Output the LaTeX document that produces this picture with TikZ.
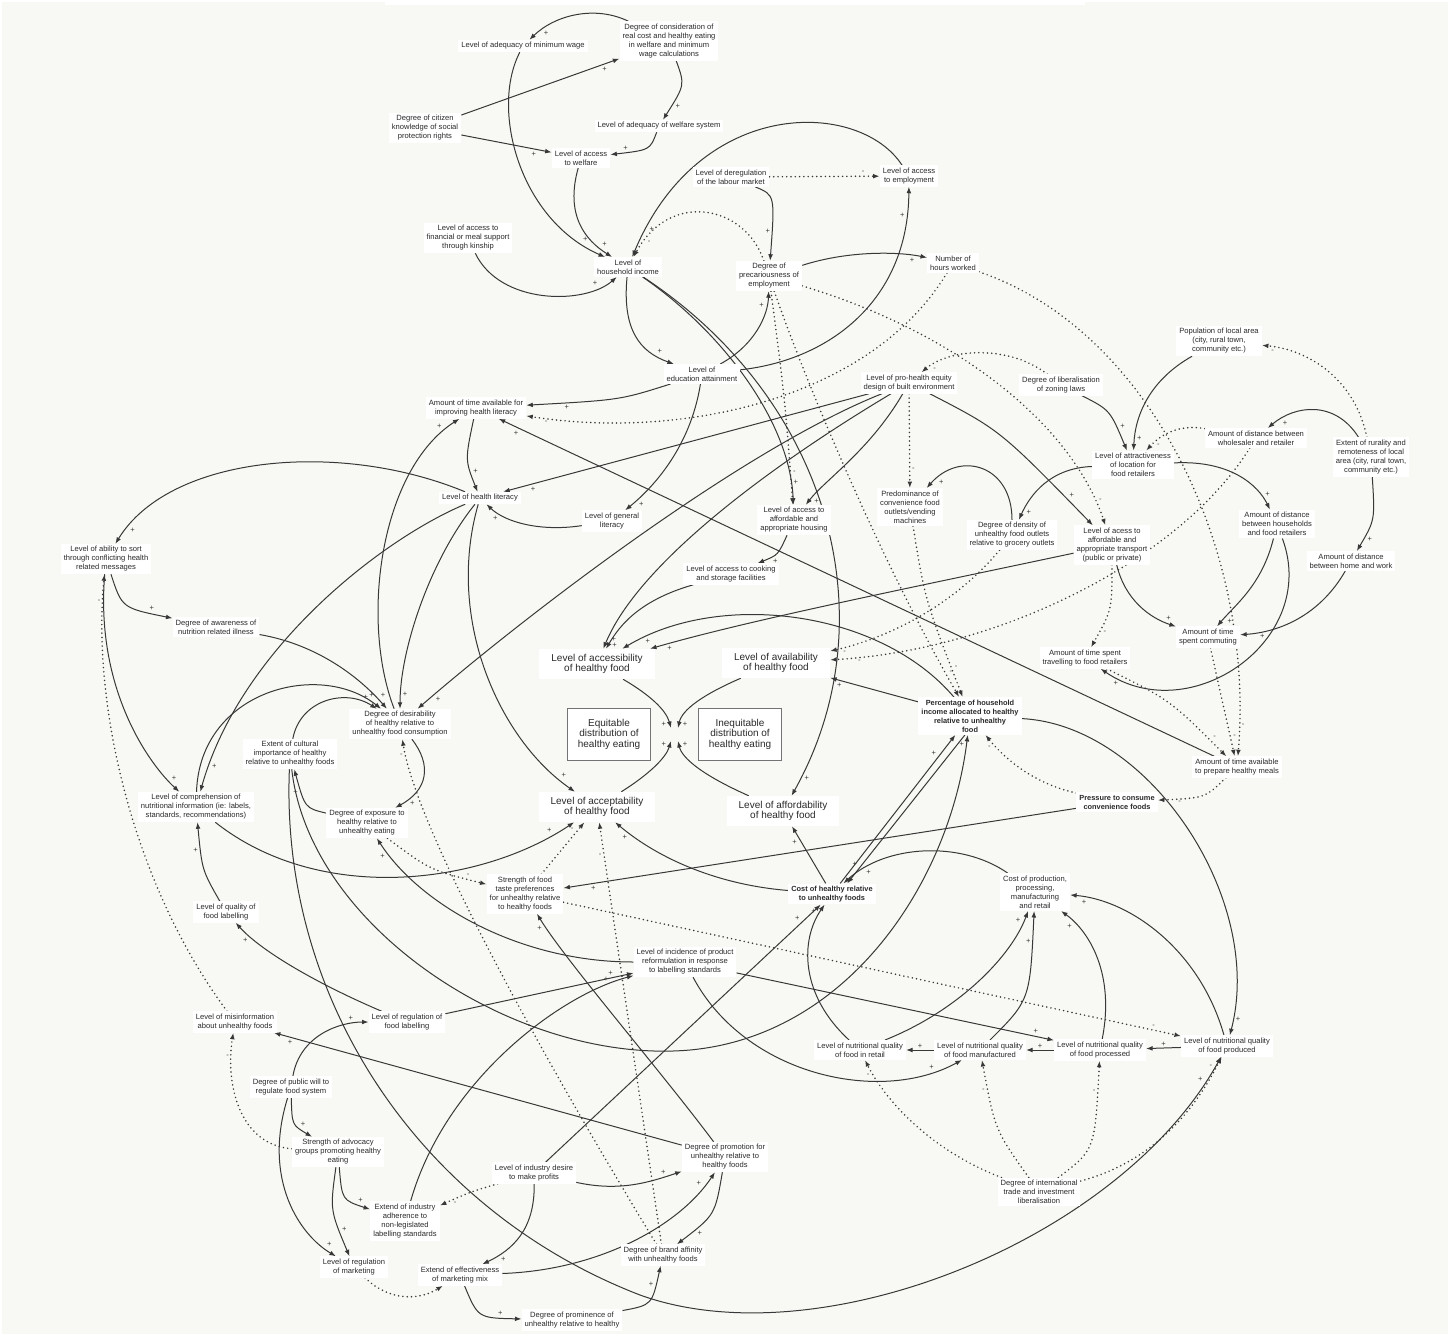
\documentclass[tikz,border=0pt]{standalone}
\usepackage{fontspec}
\setmainfont{Liberation Sans}
\usetikzlibrary{arrows.meta}
\definecolor{bgc}{HTML}{F8F8F4}
\definecolor{ln}{HTML}{383838}
\definecolor{txt}{HTML}{2A2A2A}
\pgfdeclarelayer{back}
\pgfdeclarelayer{edges}
\pgfsetlayers{back,edges,main}
\tikzset{
  box/.style={fill=white, inner xsep=3pt, inner ysep=2.5pt, align=center, text=txt, font=\fontsize{7.6}{9}\selectfont},
  bbox/.style={box, font=\fontsize{7.4}{9}\selectfont\bfseries},
  big/.style={fill=white, inner xsep=12pt, inner ysep=5pt, align=center, text=txt, font=\fontsize{10}{10.8}\selectfont},
  outc/.style={draw=ln!70, line width=0.8pt, fill=white, align=center, text=txt, font=\fontsize{10}{10.5}\selectfont, minimum width=83pt, minimum height=52pt, inner sep=2pt},
  sarr/.style={draw=ln, line width=1pt, -{Latex[length=6.5pt,width=4.8pt]}},
  darr/.style={draw=ln, line width=1.7pt, dash pattern=on 0pt off 4.3pt, line cap=round, -{Latex[length=6.5pt,width=4.8pt]}},
  pol/.style={font=\fontsize{7.5}{7.5}\selectfont, text=ln, inner sep=1.5pt, auto},
}
\begin{document}
\begin{tikzpicture}[x=1pt,y=-1pt]
\path[use as bounding box] (0,0) rectangle (1453,1336);
\begin{pgfonlayer}{back}
\fill[white] (0,0) rectangle (1453,1336);
\fill[bgc] (2,2) rectangle (1448,1334);
\fill[white] (385,0) rectangle (1085,5);
\end{pgfonlayer}

\node[box] (minwage) at (523,46) {Level of adequacy of minimum wage};
\node[box] (consid) at (669,41) {Degree of consideration of\\real cost and healthy eating\\in welfare and minimum\\wage calculations};
\node[box] (citizen) at (425,128) {Degree of citizen\\knowledge of social\\protection rights};
\node[box] (welfaresys) at (659,126) {Level of adequacy of welfare system};
\node[box] (welfare) at (581,158) {Level of access\\to welfare};
\node[box] (kinship) at (468,238) {Level of access to\\financial or meal support\\through kinship};
\node[box] (income) at (628,267) {Level of\\household income};
\node[box] (dereg) at (731,177) {Level of deregulation\\of the labour market};
\node[box] (employ) at (909,176) {Level of access\\to employment};
\node[box] (precar) at (769,276) {Degree of\\precariousness of\\employment};
\node[box] (hours) at (953,263) {Number of\\hours worked};
\node[box] (educ) at (702,374) {Level of\\education attainment};
\node[box] (timehl) at (476,408) {Amount of time available for\\improving health literacy};
\node[box] (prohealth) at (909,383) {Level of pro-health equity\\design of built environment};
\node[box] (zoning) at (1061,385) {Degree of liberalisation\\of zoning laws};
\node[box] (population) at (1219,341) {Population of local area\\(city, rural town,\\community etc.)};
\node[box] (wholesale) at (1256,438) {Amount of distance between\\wholesaler and retailer};
\node[box] (rurality) at (1371,457) {Extent of rurality and\\remoteness of local\\area (city, rural town,\\community etc.)};
\node[box] (attract) at (1133,465) {Level of attractiveness\\of location for\\food retailers};
\node[box] (healthlit) at (480,498) {Level of health literacy};
\node[box] (genlit) at (612,521) {Level of general\\literacy};
\node[box] (housing) at (794,520) {Level of access to\\affordable and\\appropriate housing};
\node[box] (conv) at (910,507) {Predominance of\\convenience food\\outlets/vending\\machines};
\node[box] (density) at (1012,535) {Degree of density of\\unhealthy food outlets\\relative to grocery outlets};
\node[box] (transport) at (1112,545) {Level of acess to\\affordable and\\appropriate transport\\(public or private)};
\node[box] (distHH) at (1277,524) {Amount of distance\\between households\\and food retailers};
\node[box] (distHW) at (1351,561) {Amount of distance\\between home and work};
\node[box] (cooking) at (731,574) {Level of access to cooking\\and storage facilities};
\node[box] (ability) at (106,559) {Level of ability to sort\\through conflicting health\\related messages};
\node[box] (awareness) at (216,627) {Degree of awareness of\\nutrition related illness};
\node[big] (accessHF) at (597,664) {Level of accessibility\\of healthy food};
\node[big] (availHF) at (776,663) {Level of availability\\of healthy food};
\node[box] (timetravel) at (1085,658) {Amount of time spent\\travelling to food retailers};
\node[box] (commute) at (1208,637) {Amount of time\\spent commuting};
\node[bbox] (pct) at (970,716) {Percentage of household\\income allocated to healthy\\relative to unhealthy\\food};
\node[outc] (equit) at (609,734) {Equitable\\distribution of\\healthy eating};
\node[outc] (inequit) at (740,734) {Inequitable\\distribution of\\healthy eating};
\node[box] (desir) at (400,724) {Degree of desirability\\of healthy relative to\\unhealthy food consumption};
\node[box] (cultural) at (290,754) {Extent of cultural\\importance of healthy\\relative to unhealthy foods};
\node[box] (exposure) at (367,823) {Degree of exposure to\\healthy relative to\\unhealthy eating};
\node[box] (compre) at (196,807) {Level of comprehension of\\nutritional information (ie: labels,\\standards, recommendations)};
\node[big] (acceptHF) at (597,807) {Level of acceptability\\of healthy food};
\node[big] (affordHF) at (783,811) {Level of affordability\\of healthy food};
\node[bbox] (pressure) at (1117,802) {Pressure to consume\\convenience foods};
\node[box] (timeprep) at (1237,767) {Amount of time available\\to prepare healthy meals};
\node[box] (taste) at (525,894) {Strength of food\\taste preferences\\for unhealthy relative\\to healthy foods};
\node[bbox] (costhealthy) at (832,894) {Cost of healthy relative\\to unhealthy foods};
\node[box] (costprod) at (1035,892) {Cost of production,\\processing,\\manufacturing\\and retail};
\node[box] (qlabel) at (226,912) {Level of quality of\\food labelling};
\node[box] (reform) at (685,962) {Level of incidence of product\\reformulation in response\\to labelling standards};
\node[box] (misinfo) at (235,1022) {Level of misinformation\\about unhealthy foods};
\node[box] (reglabel) at (407,1022) {Level of regulation of\\food labelling};
\node[box] (nqretail) at (860,1050) {Level of nutritional quality\\of food in retail};
\node[box] (nqmanuf) at (980,1050) {Level of nutritional quality\\of food manufactured};
\node[box] (nqproc) at (1100,1050) {Level of nutritional quality\\of food processed};
\node[box] (nqprod) at (1227,1046) {Level of nutritional quality\\of food produced};
\node[box] (publicwill) at (291,1087) {Degree of public will to\\regulate food system};
\node[box] (advocacy) at (338,1152) {Strength of advocacy\\groups promoting healthy\\eating};
\node[box] (profits) at (534,1173) {Level of industry desire\\to make profits};
\node[box] (promotion) at (725,1157) {Degree of promotion for\\unhealthy relative to\\healthy foods};
\node[box] (adherence) at (405,1221) {Extend of industry\\adherence to\\non-legislated\\labelling standards};
\node[box] (tradelib) at (1039,1192) {Degree of international\\trade and investment\\liberalisation};
\node[box] (brand) at (663,1255) {Degree of brand affinity\\with unhealthy foods};
\node[box] (regmkt) at (354,1267) {Level of regulation\\of marketing};
\node[box] (effmkt) at (460,1275) {Extend of effectiveness\\of marketing mix};
\node[box] (prominence) at (572,1320) {Degree of prominence of\\unhealthy relative to healthy};

\coordinate (hubTL) at (671,728);
\coordinate (hubTR) at (678,728);
\coordinate (hubBL) at (671,741);
\coordinate (hubBR) at (678,741);

\begin{pgfonlayer}{edges}
% top cluster
\draw[sarr] (consid) .. controls (595,5) and (555,15) .. (minwage) node[pol,pos=0.85]{+};
\draw[sarr] (minwage) .. controls (490,110) and (520,220) .. (income) node[pol,pos=0.9]{+};
\draw[sarr] (citizen) -- (consid) node[pol,pos=0.88,swap]{+};
\draw[sarr] (citizen) -- (welfare) node[pol,pos=0.85,swap]{+};
\draw[sarr] (consid) .. controls (685,85) .. (welfaresys) node[pol,pos=0.8]{+};
\draw[sarr] (welfaresys) .. controls (650,150) .. (welfare) node[pol,pos=0.8,swap]{+};
\draw[sarr] (welfare) .. controls (565,215) and (585,240) .. (income) node[pol,pos=0.85]{+};
\draw[sarr] (kinship) .. controls (500,305) and (585,305) .. (income) node[pol,pos=0.85]{+};
\draw[sarr] (employ) .. controls (860,100) and (700,95) .. (income) node[pol,pos=0.93]{+};
\draw[darr] (precar) .. controls (745,205) and (670,190) .. (income) node[pol,pos=0.9]{-};
\draw[darr] (dereg) -- (employ) node[pol,pos=0.85]{-};
\draw[sarr] (dereg) .. controls (775,195) .. (precar) node[pol,pos=0.85,swap]{+};
\draw[sarr] (educ) .. controls (755,345) and (768,315) .. (precar) node[pol,pos=0.75]{+};
\draw[sarr] (educ) .. controls (830,360) and (908,300) .. (employ) node[pol,pos=0.9]{+};
\draw[sarr] (precar) .. controls (850,250) and (900,252) .. (hours) node[pol,pos=0.88,swap]{+};
\draw[sarr] (income) .. controls (622,330) and (640,352) .. (educ) node[pol,pos=0.8]{+};
\draw[sarr] (income) .. controls (720,330) and (790,420) .. (housing) node[pol,pos=0.93]{+};
\draw[sarr] (income) .. controls (830,400) and (890,620) .. (affordHF) node[pol,pos=0.96]{+};
\draw[darr] (precar) .. controls (785,400) .. (housing) node[pol,pos=0.9]{-};
\draw[sarr] (prohealth) .. controls (870,450) and (825,480) .. (housing) node[pol,pos=0.9]{+};
\draw[darr] (precar) .. controls (805,380) and (880,560) .. (pct) node[pol,pos=0.95]{-};
\draw[darr] (precar) .. controls (950,330) and (1070,420) .. (transport) node[pol,pos=0.93]{-};
\draw[darr] (hours) .. controls (870,400) and (680,440) .. (timehl) node[pol,pos=0.95]{-};
\draw[darr] (hours) .. controls (1150,330) and (1255,550) .. (timeprep) node[pol,pos=0.95]{-};
\draw[sarr] (educ) .. controls (620,400) .. (timehl) node[pol,pos=0.85]{+};
\draw[sarr] (timehl) .. controls (465,460) .. (healthlit) node[pol,pos=0.8]{+};
\draw[sarr] (desir) .. controls (360,620) and (380,470) .. (timehl) node[pol,pos=0.93]{+};
\draw[sarr] (healthlit) .. controls (340,440) and (170,455) .. (ability) node[pol,pos=0.93]{+};
\draw[sarr] (educ) .. controls (690,450) and (650,490) .. (genlit) node[pol,pos=0.85]{+};
\draw[sarr] (prohealth) -- (healthlit) node[pol,pos=0.93]{+};
\draw[sarr] (genlit) .. controls (540,532) and (505,522) .. (healthlit) node[pol,pos=0.8]{+};
\draw[sarr] (healthlit) .. controls (430,560) and (400,650) .. (desir) node[pol,pos=0.9]{+};
\draw[sarr] (healthlit) .. controls (380,540) and (240,650) .. (compre) node[pol,pos=0.93]{+};
\draw[sarr] (healthlit) .. controls (445,620) and (500,740) .. (acceptHF) node[pol,pos=0.93]{+};
\draw[sarr] (prohealth) .. controls (740,450) and (520,620) .. (desir) node[pol,pos=0.95]{+};
\draw[sarr] (prohealth) .. controls (780,460) and (640,560) .. (accessHF) node[pol,pos=0.95]{+};
\draw[sarr] (housing) .. controls (778,555) .. (cooking) node[pol,pos=0.7]{+};
\draw[sarr] (cooking) .. controls (640,600) and (620,625) .. (accessHF) node[pol,pos=0.9]{+};
\draw[sarr] (transport) .. controls (900,590) and (750,620) .. (accessHF) node[pol,pos=0.95]{+};
\draw[sarr] (pct) .. controls (880,610) and (720,590) .. (accessHF) node[pol,pos=0.93]{+};
% centre
\draw[ln, line width=0.7pt, double=bgc, double distance=3.3pt] (equit.east) -- (inequit.west);
\draw[sarr] (accessHF) .. controls (650,695) and (666,710) .. (hubTL) node[pol,pos=0.85,swap]{+};
\draw[sarr] (availHF) .. controls (702,695) and (682,710) .. (hubTR) node[pol,pos=0.85]{+};
\draw[sarr] (acceptHF) .. controls (648,775) and (666,758) .. (hubBL) node[pol,pos=0.85]{+};
\draw[sarr] (affordHF) .. controls (702,775) and (682,758) .. (hubBR) node[pol,pos=0.85,swap]{+};
% right cluster
\draw[sarr] (timeprep) -- (timehl) node[pol,pos=0.97]{+};
\draw[sarr] (pct) -- (availHF) node[pol,pos=0.85]{+};
\draw[darr] (wholesale) .. controls (1180,560) and (1000,650) .. (availHF) node[pol,pos=0.95]{-};
\draw[darr] (density) .. controls (950,610) and (880,640) .. (availHF) node[pol,pos=0.93]{-};
\draw[sarr] (density) .. controls (1012,465) and (960,450) .. (conv) node[pol,pos=0.9]{+};
\draw[darr] (prohealth) -- (conv) node[pol,pos=0.8]{-};
\draw[darr] (conv) .. controls (925,600) .. (pct) node[pol,pos=0.9]{-};
\draw[sarr] (prohealth) .. controls (1000,430) .. (transport) node[pol,pos=0.9]{+};
\draw[darr] (zoning) .. controls (1010,345) and (950,348) .. (prohealth) node[pol,pos=0.9]{-};
\draw[sarr] (zoning) .. controls (1110,410) .. (attract) node[pol,pos=0.8]{+};
\draw[sarr] (population) .. controls (1150,380) and (1135,415) .. (attract) node[pol,pos=0.85]{+};
\draw[darr] (rurality) .. controls (1355,380) and (1310,350) .. (population) node[pol,pos=0.9]{-};
\draw[sarr] (rurality) .. controls (1335,400) and (1295,405) .. (wholesale) node[pol,pos=0.85]{+};
\draw[darr] (wholesale) .. controls (1185,425) and (1165,430) .. (attract) node[pol,pos=0.85]{-};
\draw[sarr] (rurality) .. controls (1375,520) .. (distHW) node[pol,pos=0.8]{+};
\draw[sarr] (attract) .. controls (1230,460) and (1258,485) .. (distHH) node[pol,pos=0.85]{+};
\draw[sarr] (attract) .. controls (1050,468) and (1030,495) .. (density) node[pol,pos=0.85]{+};
\draw[sarr] (distHH) .. controls (1262,585) and (1235,605) .. (commute) node[pol,pos=0.85]{+};
\draw[sarr] (distHW) .. controls (1320,615) and (1280,632) .. (commute) node[pol,pos=0.85]{+};
\draw[sarr] (transport) .. controls (1125,600) and (1150,618) .. (commute) node[pol,pos=0.85]{+};
\draw[sarr] (distHH) .. controls (1320,640) and (1190,730) .. (timetravel) node[pol,pos=0.93]{+};
\draw[darr] (commute) -- (timeprep) node[pol,pos=0.85]{-};
\draw[darr] (timetravel) .. controls (1170,700) .. (timeprep) node[pol,pos=0.9]{-};
\draw[darr] (transport) .. controls (1112,610) .. (timetravel) node[pol,pos=0.8]{-};
\draw[darr] (timeprep) .. controls (1205,798) .. (pressure) node[pol,pos=0.85]{-};
\draw[darr] (pressure) .. controls (1040,785) and (1010,765) .. (pct) node[pol,pos=0.9]{-};
\draw[sarr] (pressure) -- (taste) node[pol,pos=0.95]{+};
\draw[sarr] (pct) .. controls (1150,725) and (1265,900) .. (nqprod) node[pol,pos=0.95]{+};
\draw[sarr] (costhealthy) -- (pct) node[pol,pos=0.85]{+};
\draw[sarr] (pct.255) -- (costhealthy.35) node[pol,pos=0.9,swap]{+};
% left cluster
\draw[sarr] (cultural) .. controls (310,930) and (520,1065) .. (690,1050) .. controls (850,1035) and (950,880) .. (pct) node[pol,pos=0.97]{+};
\draw[sarr] (cultural) .. controls (280,1000) and (420,1210) .. (640,1295) .. controls (820,1360) and (1120,1240) .. (nqprod) node[pol,pos=0.95]{+};
\draw[sarr] (exposure) .. controls (305,808) .. (cultural) node[pol,pos=0.8]{+};
\draw[sarr] (desir) .. controls (432,765) and (428,790) .. (exposure) node[pol,pos=0.85]{+};
\draw[darr] (brand) .. controls (520,1020) and (415,820) .. (desir) node[pol,pos=0.95]{-};
\draw[darr] (brand) -- (acceptHF) node[pol,pos=0.93]{-};
\draw[darr] (taste) -- (acceptHF) node[pol,pos=0.8]{-};
\draw[darr] (exposure) .. controls (430,870) .. (taste) node[pol,pos=0.85]{-};
\draw[sarr] (compre) .. controls (320,905) and (480,885) .. (acceptHF) node[pol,pos=0.93]{+};
\draw[sarr] (costhealthy) .. controls (720,885) and (660,860) .. (acceptHF) node[pol,pos=0.9]{+};
\draw[sarr] (compre) .. controls (200,690) and (320,660) .. (desir) node[pol,pos=0.93]{+};
\draw[sarr] (cultural) .. controls (300,700) and (345,688) .. (desir) node[pol,pos=0.85]{+};
\draw[sarr] (awareness) .. controls (320,645) and (362,680) .. (desir) node[pol,pos=0.9]{+};
\draw[sarr] (ability) .. controls (122,608) .. (awareness) node[pol,pos=0.8]{+};
\draw[sarr] (ability) .. controls (95,690) and (150,765) .. (compre) node[pol,pos=0.9]{+};
\draw[darr] (misinfo) .. controls (130,880) and (92,700) .. (ability) node[pol,pos=0.93]{-};
\draw[sarr] (qlabel) .. controls (202,870) .. (compre) node[pol,pos=0.8]{+};
\draw[sarr] (reglabel) .. controls (320,985) and (262,952) .. (qlabel) node[pol,pos=0.85]{+};
\draw[sarr] (reglabel) -- (reform) node[pol,pos=0.9]{+};
\draw[sarr] (publicwill) .. controls (300,1035) and (340,1022) .. (reglabel) node[pol,pos=0.85]{+};
\draw[sarr] (publicwill) .. controls (292,1125) .. (advocacy) node[pol,pos=0.7]{+};
\draw[sarr] (publicwill) .. controls (262,1180) and (300,1235) .. (regmkt) node[pol,pos=0.9]{+};
\draw[sarr] (advocacy) .. controls (330,1210) .. (regmkt) node[pol,pos=0.8]{+};
\draw[sarr] (advocacy) .. controls (342,1200) .. (adherence) node[pol,pos=0.8]{+};
\draw[darr] (advocacy) .. controls (240,1145) and (225,1085) .. (misinfo) node[pol,pos=0.85]{-};
\draw[sarr] (promotion) -- (misinfo) node[pol,pos=0.95]{+};
\draw[darr] (regmkt) .. controls (390,1302) and (420,1300) .. (effmkt) node[pol,pos=0.9]{-};
\draw[darr] (profits) .. controls (470,1192) .. (adherence) node[pol,pos=0.85]{-};
\draw[sarr] (profits) .. controls (535,1230) and (512,1250) .. (effmkt) node[pol,pos=0.8]{+};
\draw[sarr] (profits) .. controls (620,1192) and (650,1182) .. (promotion) node[pol,pos=0.85]{+};
\draw[sarr] (profits) -- (costhealthy) node[pol,pos=0.93]{+};
\draw[sarr] (effmkt) .. controls (600,1270) and (680,1225) .. (promotion) node[pol,pos=0.9]{+};
\draw[sarr] (effmkt) .. controls (478,1318) .. (prominence) node[pol,pos=0.75]{+};
\draw[sarr] (prominence) .. controls (652,1305) .. (brand) node[pol,pos=0.75]{+};
\draw[sarr] (promotion) .. controls (715,1215) .. (brand) node[pol,pos=0.8]{+};
\draw[sarr] (promotion) .. controls (660,1070) and (565,960) .. (taste) node[pol,pos=0.93]{+};
\draw[sarr] (adherence) .. controls (445,1080) and (560,995) .. (reform) node[pol,pos=0.9]{+};
\draw[sarr] (reform) .. controls (520,962) and (420,905) .. (exposure) node[pol,pos=0.93]{+};
\draw[sarr] (reform) -- (nqproc) node[pol,pos=0.93]{+};
\draw[sarr] (reform) .. controls (745,1075) and (880,1105) .. (nqmanuf) node[pol,pos=0.9]{+};
\draw[darr] (taste) -- (nqprod) node[pol,pos=0.95]{-};
% production chain
\draw[sarr] (nqmanuf) -- (nqretail) node[pol,pos=0.5,swap]{+};
\draw[sarr] (nqproc) -- (nqmanuf) node[pol,pos=0.5,swap]{+};
\draw[sarr] (nqprod) -- (nqproc) node[pol,pos=0.5,swap]{+};
\draw[darr] (tradelib) .. controls (930,1150) and (885,1100) .. (nqretail) node[pol,pos=0.9]{-};
\draw[darr] (tradelib) .. controls (995,1130) .. (nqmanuf) node[pol,pos=0.85]{-};
\draw[darr] (tradelib) .. controls (1095,1150) .. (nqproc) node[pol,pos=0.85]{-};
\draw[darr] (tradelib) .. controls (1160,1160) and (1200,1100) .. (nqprod) node[pol,pos=0.9]{-};
\draw[sarr] (nqretail) .. controls (960,1010) and (1012,955) .. (costprod) node[pol,pos=0.9]{+};
\draw[sarr] (nqmanuf) .. controls (1030,1000) .. (costprod) node[pol,pos=0.85]{+};
\draw[sarr] (nqproc) .. controls (1115,975) and (1090,932) .. (costprod) node[pol,pos=0.85]{+};
\draw[sarr] (nqprod) .. controls (1200,950) and (1130,900) .. (costprod) node[pol,pos=0.9]{+};
\draw[sarr] (nqretail) .. controls (800,995) and (800,940) .. (costhealthy) node[pol,pos=0.9]{+};
\draw[sarr] (costprod) .. controls (960,840) and (885,845) .. (costhealthy) node[pol,pos=0.85]{+};
\draw[sarr] (costhealthy) -- (affordHF) node[pol,pos=0.8]{+};
\end{pgfonlayer}
\end{tikzpicture}
\end{document}
